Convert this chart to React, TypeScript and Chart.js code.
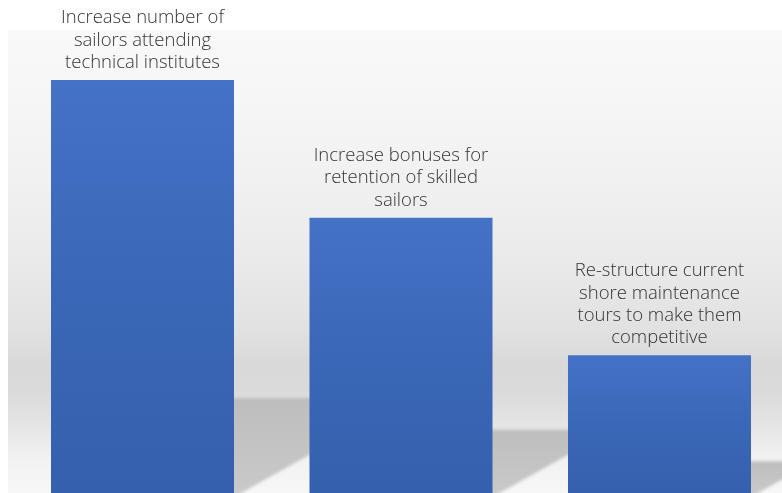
import React, { useEffect, useRef } from "react";
import { Chart, registerables } from "chart.js";

Chart.register(...registerables);

const categories: string[][] = [
  ["Increase number of", "sailors attending", "technical institutes"],
  ["Increase bonuses for", "retention of skilled", "sailors"],
  ["Re-structure current", "shore maintenance", "tours to make them", "competitive"],
];
const values: number[] = [3, 2, 1];

export default function App() {
  const ref = useRef<HTMLCanvasElement>(null);

  useEffect(() => {
    document.body.style.margin = "0";
    document.body.style.overflow = "hidden";
    const canvas = ref.current;
    if (!canvas) return;

    const bgPlugin = {
      id: "bgPlugin",
      beforeDraw(chart: any) {
        const { ctx, chartArea: a } = chart;
        ctx.save();
        const g = ctx.createLinearGradient(0, a.top, 0, a.bottom);
        g.addColorStop(0, "#f9f9f9");
        g.addColorStop(0.15, "#f6f6f6");
        g.addColorStop(0.32, "#f1f1f1");
        g.addColorStop(0.5, "#eaeaea");
        g.addColorStop(0.65, "#e1e1e1");
        g.addColorStop(0.72, "#d9d9d9");
        g.addColorStop(0.78, "#dadada");
        g.addColorStop(0.86, "#e6e6e6");
        g.addColorStop(0.93, "#f2f2f2");
        g.addColorStop(1, "#f7f7f7");
        ctx.fillStyle = g;
        ctx.fillRect(a.left, a.top, a.right - a.left, a.bottom - a.top);
        ctx.restore();
      },
    };

    const shadowPlugin = {
      id: "shadowPlugin",
      beforeDatasetsDraw(chart: any) {
        const { ctx } = chart;
        const meta = chart.getDatasetMeta(0);
        ctx.save();
        ctx.filter = "blur(1.5px)";
        meta.data.forEach((bar: any) => {
          const { x, y, base, width } = bar.getProps(["x", "y", "base", "width"], true);
          const xl = x - width / 2;
          const xr = x + width / 2;
          const h = base - y;
          const sTop = base - h * 0.23;
          const dx = (base - sTop) / 0.56;
          const g = ctx.createLinearGradient(0, sTop, 0, base);
          g.addColorStop(0, "#bdbdbd");
          g.addColorStop(1, "#c9c9c9");
          ctx.fillStyle = g;
          ctx.beginPath();
          ctx.moveTo(xl, base + 4);
          ctx.lineTo(xr, base + 4);
          ctx.lineTo(xr + dx + 4 / 0.56, sTop);
          ctx.lineTo(xl + dx, sTop);
          ctx.closePath();
          ctx.fill();
        });
        ctx.restore();
      },
    };

    const labelPlugin = {
      id: "labelPlugin",
      afterDatasetsDraw(chart: any) {
        const { ctx } = chart;
        const meta = chart.getDatasetMeta(0);
        ctx.save();
        ctx.font = "300 18.5px 'Open Sans'";
        ctx.fillStyle = "#333333";
        ctx.textAlign = "center";
        ctx.textBaseline = "alphabetic";
        meta.data.forEach((bar: any, i: number) => {
          const lines = categories[i];
          const n = lines.length;
          lines.forEach((line, j) => {
            ctx.fillText(line, bar.x, bar.y - 12 - (n - 1 - j) * 22.3);
          });
        });
        ctx.restore();
      },
    };

    const chart = new Chart(canvas, {
      type: "bar",
      data: {
        labels: categories.map((c) => c.join(" ")),
        datasets: [
          {
            data: values.map((v, i) => ({ x: i, y: v })) as any,
            backgroundColor: (c: any) => {
              const ch = c.chart;
              if (!ch.chartArea || c.type !== "data") return "#3d69ba";
              const ys = ch.scales.y;
              const top = ys.getPixelForValue(c.raw.y);
              const base = ys.getPixelForValue(0);
              const g = ch.ctx.createLinearGradient(0, top, 0, base);
              g.addColorStop(0, "#4472c5");
              g.addColorStop(0.5, "#3b67b8");
              g.addColorStop(1, "#3560ad");
              return g;
            },
            borderWidth: 0,
            barPercentage: 0.708,
            categoryPercentage: 1,
          },
        ],
      },
      options: {
        animation: false,
        responsive: false,
        layout: { padding: { top: 30, left: 8, right: 0, bottom: 0 } },
        plugins: { legend: { display: false }, tooltip: { enabled: false } },
        scales: {
          x: {
            type: "linear",
            min: -0.5203,
            max: 2.4739,
            offset: false,
            display: false,
            ticks: { stepSize: 1, includeBounds: false },
          },
          y: { min: 0, max: 3.363, display: false },
        },
      },
      plugins: [bgPlugin, shadowPlugin, labelPlugin],
    });
    return () => chart.destroy();
  }, []);

  return <canvas ref={ref} width={782} height={493} style={{ display: "block" }} />;
}
